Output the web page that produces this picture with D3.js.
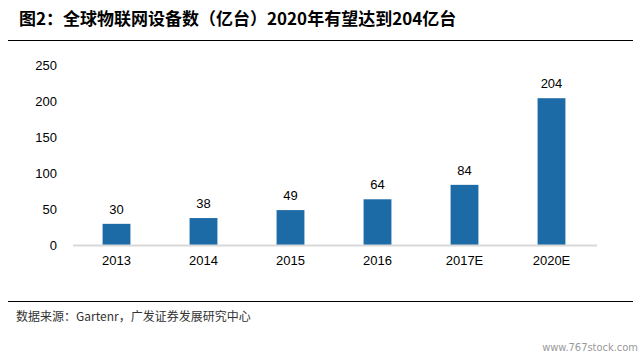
<!DOCTYPE html>
<html><head><meta charset="utf-8">
<script src="https://cdn.jsdelivr.net/npm/d3@7"></script>
<style>body{margin:0;background:#fff}svg{display:block}</style>
</head><body>
<script>
const categories = ["2013","2014","2015","2016","2017E","2020E"];
const values = [30,38,49,64,84,204];
const yTicks = [0,50,100,150,200,250];
const title = "图2：全球物联网设备数（亿台）2020年有望达到204亿台";
const source = "数据来源：Gartenr，广发证券发展研究中心";
const watermark = "www.767stock.com";

const W=641,H=357;
const svg=d3.select("body").append("svg").attr("width",W).attr("height",H);
const font="Arial, 'Liberation Sans', 'Noto Sans CJK SC', sans-serif";

svg.append("text").attr("x",19).attr("y",25).attr("font-family","'Noto Sans CJK SC', sans-serif")
  .attr("font-weight","bold").attr("font-size",17).attr("fill","#000").text(title);
svg.append("line").attr("x1",8).attr("x2",633).attr("y1",40.5).attr("y2",40.5).attr("stroke","#000").attr("stroke-width",1.2);

const x=d3.scaleBand().domain(categories).range([73,595]).paddingInner(0.68).paddingOuter(0.34);
const y=d3.scaleLinear().domain([0,250]).range([245.5,65]);

const g=svg.append("g");
g.selectAll("rect").data(values).join("rect")
  .attr("x",(d,i)=>x(categories[i])).attr("width",x.bandwidth())
  .attr("y",d=>y(d)).attr("height",d=>y(0)-y(d)).attr("fill","#1c6aa6");
g.selectAll("text.v").data(values).join("text").attr("class","v")
  .attr("x",(d,i)=>x(categories[i])+x.bandwidth()/2).attr("y",d=>y(d)-10)
  .attr("text-anchor","middle").attr("font-family",font).attr("font-size",13).text(d=>d);

svg.append("line").attr("x1",73).attr("x2",597).attr("y1",y(0)).attr("y2",y(0)).attr("stroke","#d9d9d9").attr("stroke-width",2);

const ya=svg.append("g").attr("transform","translate(57,0)")
  .call(d3.axisLeft(y).tickValues(yTicks).tickSize(0).tickPadding(0));
ya.select(".domain").remove();
ya.selectAll("text").attr("font-family",font).attr("font-size",13).attr("fill","#000");

const xa=svg.append("g").attr("transform",`translate(0,${y(0)})`)
  .call(d3.axisBottom(x).tickSize(0).tickPadding(10));
xa.select(".domain").remove();
xa.selectAll("text").attr("font-family",font).attr("font-size",13).attr("fill","#000");

svg.append("line").attr("x1",8).attr("x2",633).attr("y1",301.5).attr("y2",301.5).attr("stroke","#000").attr("stroke-width",1.2);
svg.append("text").attr("x",16).attr("y",321).attr("font-family","'Noto Sans CJK SC', sans-serif")
  .attr("font-size",12).attr("fill","#333").text(source);
svg.append("text").attr("x",638).attr("y",351).attr("text-anchor","end").attr("font-family","'DejaVu Sans Condensed', sans-serif")
  .attr("font-size",11).attr("fill","#999").text(watermark);
</script>
</body></html>
